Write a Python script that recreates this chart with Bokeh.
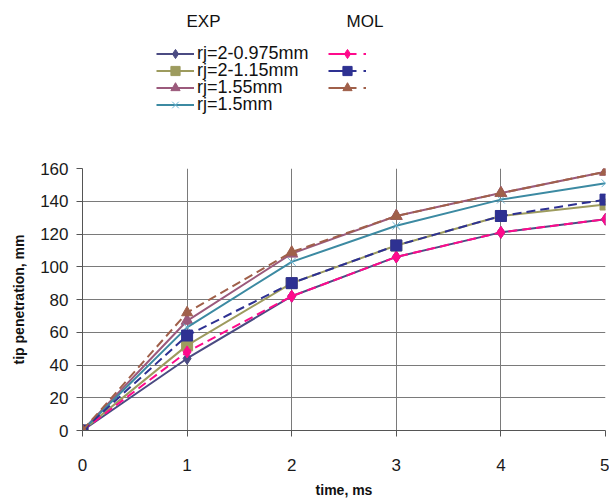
from bokeh.plotting import figure
from bokeh.layouts import column
from bokeh.models import Legend, LegendItem, Label, FixedTicker, Range1d
from bokeh.embed import file_html
from bokeh.resources import INLINE

time_ms = [0, 1, 2, 3, 4, 5]
y_ticks = [0, 20, 40, 60, 80, 100, 120, 140, 160]

exp_names = ["rj=2-0.975mm", "rj=2-1.15mm", "rj=1.55mm", "rj=1.5mm"]
exp_0975 = [0, 44, 82, 106, 121, 129]
exp_115 = [0, 52, 90, 113, 131, 138]
exp_155 = [0, 67, 108, 131, 145, 158]
exp_15 = [0, 63, 103, 125, 141, 151]

mol_names = [" ", " ", " "]
mol_0975 = [0, 48, 82, 106, 121, 129]
mol_115 = [0, 58, 90, 113, 131, 141]
mol_155 = [0, 72, 109, 131, 145, 158]

FONT = "Liberation Sans"

c1, c2, c3, c4 = "#4b4b82", "#9d9b5e", "#9b5a7c", "#3c8aa2"
m1, m2, m3 = "#ff0a8c", "#2e3192", "#a0604a"
DASH = "9 5"

# ---------------- main chart ----------------
p = figure(width=609, height=342, output_backend="svg", toolbar_location=None,
           x_range=Range1d(0, 5), y_range=Range1d(0, 160),
           min_border_left=82, min_border_right=4, min_border_top=10, min_border_bottom=69)
p.outline_line_color = None
p.background_fill_color = "white"

for ax in (p.xaxis, p.yaxis):
    ax.axis_line_color = "#555555"
    ax.major_tick_line_color = "#555555"
    ax.minor_tick_line_color = None
    ax.major_label_text_font = FONT
    ax.major_label_text_font_size = "17px"
    ax.major_label_text_color = "#1a1a1a"
    ax.axis_label_text_font = FONT
    ax.axis_label_text_font_size = "14px"
    ax.axis_label_text_font_style = "bold"
    ax.axis_label_text_color = "#111111"

p.xaxis.ticker = FixedTicker(ticks=time_ms)
p.yaxis.ticker = FixedTicker(ticks=y_ticks)
p.xaxis.major_tick_out = 6
p.xaxis.major_tick_in = 0
p.yaxis.major_tick_out = 6
p.yaxis.major_tick_in = 0
p.xaxis.major_label_standoff = 22
p.yaxis.major_label_standoff = 8
p.xaxis.axis_label = "time, ms"
p.yaxis.axis_label = "tip penetration, mm"
p.xaxis.axis_label_standoff = 8
p.yaxis.axis_label_standoff = 10

p.xgrid.ticker = FixedTicker(ticks=time_ms)
p.ygrid.ticker = FixedTicker(ticks=y_ticks)
p.grid.grid_line_color = "#7a7a7a"
p.grid.grid_line_width = 1

p.line(time_ms, exp_0975, line_color=c1, line_width=2)
p.scatter(time_ms, exp_0975, marker="diamond", size=12, fill_color=c1, line_color=c1)
p.line(time_ms, exp_115, line_color=c2, line_width=2)
p.scatter(time_ms, exp_115, marker="square", size=11, fill_color=c2, line_color=c2)
p.line(time_ms, exp_155, line_color=c3, line_width=2)
p.scatter(time_ms, exp_155, marker="triangle", size=12, fill_color=c3, line_color=c3)
p.line(time_ms, exp_15, line_color=c4, line_width=2)
p.scatter(time_ms, exp_15, marker="x", size=11, line_color="#6ab4d2", line_width=1)

p.line(time_ms, mol_0975, line_color=m1, line_width=2, line_dash=DASH)
p.scatter(time_ms, mol_0975, marker="diamond", size=12, fill_color=m1, line_color=m1)
p.line(time_ms, mol_115, line_color=m2, line_width=2, line_dash=DASH)
p.scatter(time_ms, mol_115, marker="square", size=11, fill_color=m2, line_color=m2)
p.line(time_ms, mol_155, line_color=m3, line_width=2, line_dash=DASH)
p.scatter(time_ms, mol_155, marker="triangle", size=11, fill_color=m3, line_color=m3)

# ---------------- legend panel ----------------
# its frame is aligned with the main frame (left edge at 82 px); the proxies'
# data lie outside this panel's ranges, so only their legend samples show.
top = figure(width=609, height=158, output_backend="svg", toolbar_location=None,
             x_range=Range1d(1000, 1523), y_range=Range1d(1000, 1158),
             min_border_left=0, min_border_right=0, min_border_top=0, min_border_bottom=0)
top.axis.visible = False
top.grid.visible = False
top.outline_line_color = None


def proxy(ys, color, marker, size, dash="solid"):
    r = top.line(time_ms, ys, line_color=color, line_width=2, line_dash=dash)
    if marker == "x":
        s = top.scatter(time_ms, ys, marker=marker, size=size, line_color="#6ab4d2", line_width=1)
    else:
        s = top.scatter(time_ms, ys, marker=marker, size=size, fill_color=color, line_color=color)
    return [r, s]


LDASH = "28 7"
exp_items = [
    LegendItem(label=exp_names[0], renderers=proxy(exp_0975, c1, "diamond", 11)),
    LegendItem(label=exp_names[1], renderers=proxy(exp_115, c2, "square", 11)),
    LegendItem(label=exp_names[2], renderers=proxy(exp_155, c3, "triangle", 11)),
    LegendItem(label=exp_names[3], renderers=proxy(exp_15, c4, "x", 11)),
]
mol_items = [
    LegendItem(label=mol_names[0], renderers=proxy(mol_0975, m1, "diamond", 11, LDASH)),
    LegendItem(label=mol_names[1], renderers=proxy(mol_115, m2, "square", 11, LDASH)),
    LegendItem(label=mol_names[2], renderers=proxy(mol_155, m3, "triangle", 10, LDASH)),
]


def mk_legend(item, loc):
    lg = Legend(items=[item], location=loc, orientation="vertical")
    lg.background_fill_alpha = 0
    lg.border_line_color = None
    lg.label_text_font = FONT
    lg.label_text_font_size = "18px"
    lg.label_text_color = "#111111"
    lg.glyph_width = 38
    lg.glyph_height = 23
    lg.label_height = 18
    lg.spacing = 0
    lg.padding = 0
    lg.margin = 0
    lg.label_standoff = 3
    return lg


row_bottoms = [93.5, 76.5, 59.5, 42.5]
for item, yb in zip(exp_items, row_bottoms):
    top.add_layout(mk_legend(item, (74, yb)), "center")
for item, yb in zip(mol_items, row_bottoms):
    top.add_layout(mk_legend(item, (246, yb)), "center")

top.add_layout(Label(x=104, y=137, x_units="screen", y_units="screen", text="EXP",
                     text_baseline="middle", text_font=FONT, text_font_size="17px",
                     text_color="#111111"))
top.add_layout(Label(x=264, y=137, x_units="screen", y_units="screen", text="MOL",
                     text_baseline="middle", text_font=FONT, text_font_size="17px",
                     text_color="#111111"))

layout = column(top, p, spacing=0)
open("out.html", "w").write(file_html(layout, INLINE))
